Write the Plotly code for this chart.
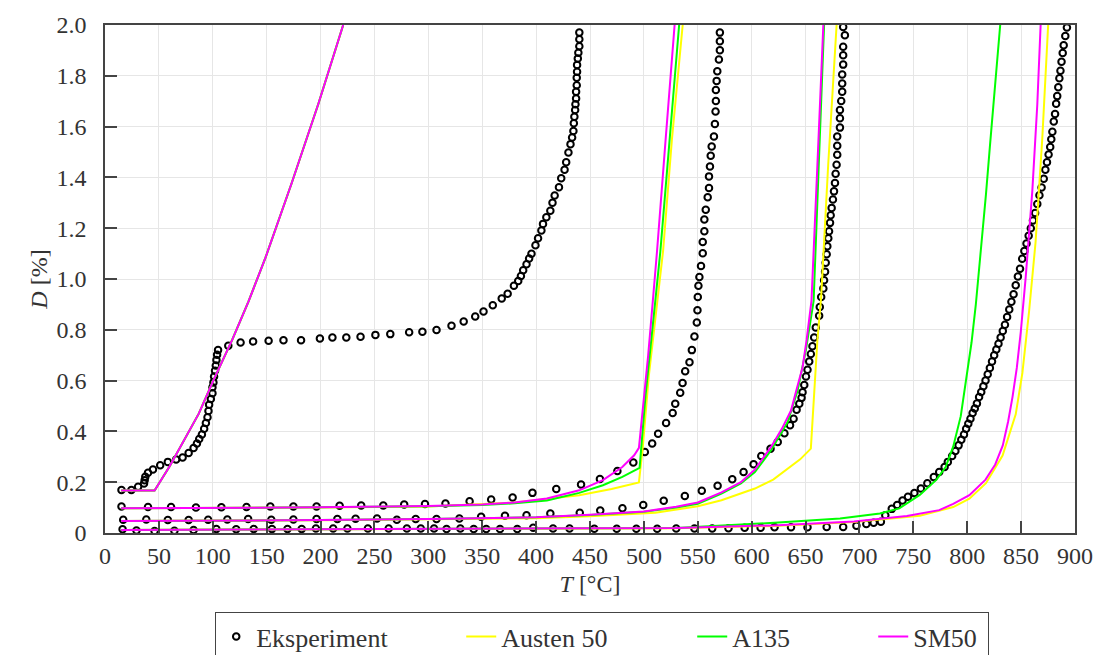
import plotly.graph_objects as go

# ---------------- Experimental data (Eksperiment) ----------------
exp1_T = [15.3, 24.5, 30.7, 36.2, 36.8, 37.4, 39.9, 44.5, 51.2, 58.3, 66.0, 72.0, 77.6, 82.2, 85.3, 87.4, 89.9, 92.0,
          93.6, 95.1, 96.0, 96.6, 98.2, 99.7, 99.7, 100.6, 101.2, 102.1, 102.8, 103.4, 104.0, 104.9, 114.4, 125.8,
          137.4, 151.8, 165.6, 181.9, 199.4, 211.0, 223.9, 237.1, 250.9, 264.7, 282.2, 294.5, 307.6, 321.5, 332.8,
          343.5, 351.2, 359.8, 368.1, 373.6, 379.4, 383.4, 385.9, 388.0, 391.1, 393.5, 395.7, 399.4, 401.8, 404.9,
          406.4, 409.5, 413.2, 415.2, 417.2, 421.2, 423.3, 426.4, 427.9, 430.0, 431.9, 433.4, 434.6, 435.0, 435.5,
          436.2, 436.5, 437.1, 437.1, 437.7, 437.7, 438.0, 438.0, 438.7, 439.2, 440.1, 440.1, 440.1]
exp1_D = [0.169, 0.169, 0.182, 0.195, 0.208, 0.221, 0.237, 0.250, 0.267, 0.280, 0.289, 0.297, 0.315, 0.335, 0.352,
          0.370, 0.388, 0.410, 0.433, 0.456, 0.480, 0.505, 0.528, 0.550, 0.574, 0.593, 0.616, 0.639, 0.659, 0.681,
          0.702, 0.720, 0.737, 0.750, 0.754, 0.757, 0.759, 0.759, 0.766, 0.770, 0.770, 0.773, 0.780, 0.783, 0.790,
          0.792, 0.799, 0.816, 0.833, 0.852, 0.872, 0.897, 0.923, 0.942, 0.973, 0.992, 1.012, 1.034, 1.058, 1.081,
          1.099, 1.133, 1.160, 1.191, 1.217, 1.243, 1.269, 1.300, 1.329, 1.361, 1.397, 1.430, 1.460, 1.498, 1.531,
          1.557, 1.583, 1.613, 1.639, 1.665, 1.688, 1.711, 1.737, 1.763, 1.792, 1.816, 1.843, 1.868, 1.891, 1.916,
          1.944, 1.970]

exp2_T = [15.3, 39.9, 61.3, 84.4, 108.0, 131.3, 153.4, 174.8, 196.3, 217.7, 237.7, 258.2, 277.6, 296.9, 315.9,
          338.3, 358.3, 378.2, 396.6, 418.7, 441.7, 459.2, 475.4, 490.2, 500.9, 507.7, 513.2, 520.6, 526.7, 529.1,
          533.7, 535.9, 538.3, 542.3, 544.5, 546.9, 549.1, 549.7, 550.0, 550.6, 551.5, 553.0, 554.6, 554.6, 556.1,
          556.1, 557.4, 559.2, 560.4, 560.4, 561.3, 562.0, 562.9, 565.0, 565.9, 566.5, 566.8, 566.8, 567.5, 568.1,
          569.6, 570.5, 570.5, 570.5]
exp2_D = [0.104, 0.102, 0.102, 0.100, 0.101, 0.102, 0.104, 0.104, 0.104, 0.107, 0.108, 0.108, 0.112, 0.114, 0.116,
          0.125, 0.132, 0.140, 0.158, 0.173, 0.191, 0.213, 0.244, 0.278, 0.319, 0.352, 0.391, 0.433, 0.472, 0.509,
          0.552, 0.591, 0.637, 0.672, 0.720, 0.774, 0.829, 0.877, 0.929, 0.973, 1.008, 1.051, 1.101, 1.146, 1.188,
          1.234, 1.273, 1.322, 1.358, 1.404, 1.443, 1.485, 1.522, 1.561, 1.610, 1.659, 1.701, 1.744, 1.780, 1.818,
          1.864, 1.901, 1.936, 1.970]

exp3_T = [16.9, 38.3, 58.3, 77.6, 95.7, 113.5, 132.8, 154.3, 174.8, 196.3, 215.6, 232.5, 252.4, 270.8, 288.3,
          307.6, 328.8, 349.0, 371.1, 391.1, 413.2, 440.5, 459.5, 480.1, 499.4, 518.4, 538.0, 553.7, 568.4, 582.0,
          592.5, 601.8, 608.9, 617.5, 624.2, 630.4, 635.6, 638.9, 641.7, 644.2, 646.3, 647.2, 648.8, 650.4, 651.8,
          653.4, 654.9, 656.4, 658.0, 659.5, 662.6, 663.2, 664.5, 666.5, 667.2, 668.1, 668.7, 669.6, 670.2, 671.1,
          671.8, 672.7, 673.3, 674.2, 675.4, 676.4, 677.3, 677.9, 678.8, 679.4, 679.4, 679.4, 681.9, 681.9, 681.9,
          683.1, 684.0, 684.0, 684.0, 684.9, 684.9, 684.9, 686.5, 684.9]
exp3_D = [0.052, 0.053, 0.051, 0.051, 0.052, 0.053, 0.055, 0.052, 0.053, 0.055, 0.055, 0.056, 0.057, 0.052, 0.055,
          0.055, 0.057, 0.064, 0.068, 0.070, 0.077, 0.080, 0.089, 0.097, 0.110, 0.127, 0.146, 0.166, 0.186, 0.212,
          0.240, 0.271, 0.303, 0.332, 0.358, 0.393, 0.424, 0.450, 0.485, 0.509, 0.532, 0.554, 0.583, 0.616, 0.643,
          0.675, 0.705, 0.735, 0.770, 0.809, 0.855, 0.890, 0.929, 0.963, 0.995, 1.029, 1.064, 1.097, 1.129, 1.160,
          1.188, 1.221, 1.251, 1.280, 1.313, 1.345, 1.378, 1.414, 1.450, 1.489, 1.525, 1.561, 1.596, 1.633, 1.665,
          1.701, 1.737, 1.770, 1.805, 1.844, 1.881, 1.914, 1.960, 1.992]

exp4_T = [16.3, 29.2, 46.0, 64.4, 82.2, 103.3, 121.7, 138.0, 154.9, 169.3, 182.5, 195.7, 211.7, 224.9, 243.9,
          263.2, 280.1, 293.0, 305.3, 316.9, 329.7, 342.1, 353.7, 366.5, 382.5, 397.3, 415.7, 431.0, 454.0, 474.8,
          493.0, 512.3, 530.0, 546.9, 563.4, 578.5, 593.5, 608.3, 621.2, 636.5, 651.8, 669.6, 684.9, 697.2, 706.4,
          713.2, 719.9, 724.0, 730.0, 735.0, 740.0, 745.0, 751.0, 757.0, 763.0, 769.0, 774.0, 779.0, 782.0, 786.0,
          789.0, 792.0, 794.5, 797.0, 799.0, 801.0, 803.0, 805.0, 807.0, 809.0, 811.0, 813.0, 815.0, 817.0, 819.0,
          821.0, 823.0, 825.0, 827.0, 829.0, 831.0, 833.0, 835.0, 837.0, 839.0, 841.0, 843.0, 845.0, 847.0, 849.0,
          851.0, 853.0, 855.0, 857.0, 859.0, 861.0, 863.0, 865.0, 867.0, 869.0, 871.0, 872.5, 874.0, 875.5, 877.0,
          878.0, 879.0, 880.3, 881.5, 882.5, 883.5, 884.5, 885.5, 886.5, 887.5, 888.6, 889.5, 891.0, 892.5]
exp4_D = [0.015, 0.010, 0.008, 0.009, 0.012, 0.016, 0.015, 0.016, 0.016, 0.016, 0.016, 0.018, 0.018, 0.018, 0.018,
          0.018, 0.018, 0.018, 0.018, 0.016, 0.018, 0.016, 0.016, 0.016, 0.016, 0.021, 0.018, 0.018, 0.017, 0.017,
          0.017, 0.017, 0.018, 0.018, 0.018, 0.019, 0.021, 0.021, 0.023, 0.023, 0.023, 0.024, 0.024, 0.029, 0.035,
          0.040, 0.044, 0.070, 0.095, 0.110, 0.128, 0.143, 0.157, 0.175, 0.196, 0.220, 0.240, 0.260, 0.280, 0.303,
          0.323, 0.345, 0.367, 0.388, 0.410, 0.430, 0.450, 0.472, 0.490, 0.510, 0.535, 0.555, 0.578, 0.600, 0.625,
          0.650, 0.675, 0.700, 0.722, 0.745, 0.770, 0.795, 0.820, 0.850, 0.880, 0.910, 0.940, 0.975, 1.010, 1.040,
          1.080, 1.110, 1.140, 1.170, 1.200, 1.230, 1.260, 1.295, 1.330, 1.360, 1.395, 1.430, 1.460, 1.490, 1.520,
          1.550, 1.580, 1.620, 1.650, 1.690, 1.720, 1.755, 1.790, 1.820, 1.855, 1.890, 1.920, 1.957, 1.990]

# ---------------- Model curves (four loading cases each) ----------------
case1_T = [15, 46, 60, 75, 87, 101, 118, 133, 149, 173, 198, 221]
case1_D = [0.167, 0.167, 0.263, 0.378, 0.470, 0.605, 0.760, 0.910, 1.085, 1.375, 1.690, 2.000]

austen2_T = [15, 100, 200, 300, 380, 440, 470, 495.4, 499, 504.6, 512.2, 517.8, 526, 536]
austen2_D = [0.097, 0.098, 0.100, 0.104, 0.120, 0.149, 0.173, 0.199, 0.340, 0.620, 0.914, 1.110, 1.550, 2.000]
a135_2_T = [15, 100, 200, 300, 350, 380, 410, 440, 462, 480, 496, 501.5, 506, 510.6, 515.3, 524, 532.7]
a135_2_D = [0.097, 0.098, 0.101, 0.105, 0.110, 0.117, 0.128, 0.158, 0.188, 0.221, 0.256, 0.540, 0.740, 0.914,
            1.110, 1.560, 2.000]
sm50_2_T = [15, 100, 200, 300, 350, 380, 410, 440, 462, 480, 491, 495.4, 500, 504, 508.3, 512.2, 520, 528.5]
sm50_2_D = [0.097, 0.098, 0.101, 0.106, 0.112, 0.120, 0.136, 0.168, 0.208, 0.260, 0.306, 0.335, 0.520, 0.700,
            0.914, 1.110, 1.540, 2.000]

austen3_T = [15, 200, 400, 450, 510.6, 550, 572, 603, 620, 633.4, 645, 654.9, 658, 661, 664.5, 671, 678.8]
austen3_D = [0.047, 0.050, 0.058, 0.066, 0.080, 0.105, 0.129, 0.175, 0.210, 0.254, 0.290, 0.332, 0.560, 0.760,
             0.930, 1.450, 2.000]
a135_3_T = [15, 100, 200, 300, 400, 450, 500, 530, 550, 572, 590, 603, 618, 633.4, 642.6, 650.3, 654, 657.5,
            662, 667.2]
a135_3_D = [0.047, 0.048, 0.051, 0.055, 0.062, 0.071, 0.084, 0.100, 0.115, 0.155, 0.195, 0.240, 0.326, 0.437,
            0.560, 0.720, 0.820, 0.914, 1.420, 2.000]
sm50_3_T = [15, 100, 200, 300, 400, 450, 500, 530, 550, 572, 590, 603, 618, 628, 636.5, 642.6, 647.2, 651,
            655.5, 661, 666.5]
sm50_3_D = [0.047, 0.048, 0.051, 0.055, 0.062, 0.072, 0.085, 0.103, 0.120, 0.160, 0.200, 0.250, 0.339, 0.410,
            0.482, 0.580, 0.652, 0.760, 0.914, 1.450, 2.000]

austen4_T = [15, 200, 400, 530, 620, 695, 756, 787, 802, 817.4, 832.8, 845, 851.2, 857.4, 863.4, 869.6, 875.1]
austen4_D = [0.012, 0.014, 0.017, 0.019, 0.028, 0.043, 0.068, 0.102, 0.135, 0.196, 0.305, 0.467, 0.630, 0.873,
             1.144, 1.550, 2.000]
a135_4_T = [15, 200, 400, 530, 621, 682, 719, 737, 756, 771.5, 780, 787, 794, 799, 804, 808, 812.5, 817.4, 821,
            825, 830.6]
a135_4_D = [0.012, 0.014, 0.018, 0.020, 0.040, 0.057, 0.077, 0.097, 0.150, 0.210, 0.260, 0.340, 0.460, 0.600,
            0.750, 0.900, 1.100, 1.334, 1.520, 1.713, 2.000]
sm50_4_T = [15, 200, 400, 530, 620, 695, 744, 774, 787, 802, 817, 826, 833, 838, 842, 846, 849.7, 854.3, 860.4,
            865, 868.1]
sm50_4_D = [0.012, 0.014, 0.018, 0.020, 0.030, 0.045, 0.067, 0.090, 0.115, 0.149, 0.210, 0.270, 0.345, 0.440,
            0.535, 0.650, 0.792, 1.009, 1.347, 1.686, 2.000]

x_ticks = list(range(0, 901, 50))
y_ticks = [0, 0.2, 0.4, 0.6, 0.8, 1.0, 1.2, 1.4, 1.6, 1.8, 2.0]
y_ticktext = ["0", "0.2", "0.4", "0.6", "0.8", "1.0", "1.2", "1.4", "1.6", "1.8", "2.0"]

series_names = ["Eksperiment", "Austen 50", "A135", "SM50"]
series_colors = ["#000000", "#FFFF00", "#00FF00", "#FF00FF"]
legend_widths = [200, 186, 136, 70]


def join(*segs):
    xs, ys = [], []
    for t, d in segs:
        assert len(t) == len(d)
        if xs:
            xs.append(None)
            ys.append(None)
        xs += list(t)
        ys += list(d)
    return xs, ys


FONT = "Liberation Serif"
fig = go.Figure()

ex, ey = join((exp1_T, exp1_D), (exp2_T, exp2_D), (exp3_T, exp3_D), (exp4_T, exp4_D))
fig.add_trace(go.Scatter(x=ex, y=ey, mode="markers", name=series_names[0], legendwidth=legend_widths[0],
                         marker=dict(symbol="circle-open", size=6.5, color=series_colors[0],
                                     line=dict(width=2, color=series_colors[0]))))

models = [
    ((case1_T, case1_D), (austen2_T, austen2_D), (austen3_T, austen3_D), (austen4_T, austen4_D)),
    ((case1_T, case1_D), (a135_2_T, a135_2_D), (a135_3_T, a135_3_D), (a135_4_T, a135_4_D)),
    ((case1_T, case1_D), (sm50_2_T, sm50_2_D), (sm50_3_T, sm50_3_D), (sm50_4_T, sm50_4_D)),
]
for i, segs in enumerate(models):
    mx, my = join(*segs)
    fig.add_trace(go.Scatter(x=mx, y=my, mode="lines", name=series_names[i + 1],
                             legendwidth=legend_widths[i + 1],
                             line=dict(color=series_colors[i + 1], width=2)))

axis_common = dict(showline=True, linecolor="#444", linewidth=1.5, mirror=True,
                   ticks="inside", ticklen=12, tickwidth=1.5, tickcolor="#444",
                   showgrid=True, gridcolor="#e6e6e6", gridwidth=1, zeroline=False,
                   tickfont=dict(family=FONT, size=24, color="#333"))

fig.update_layout(
    width=1105, height=655,
    margin=dict(l=105, r=22, t=23, b=122),
    paper_bgcolor="white", plot_bgcolor="white",
    font=dict(family=FONT, size=24, color="#333"),
    xaxis=dict(range=[0, 900], tickvals=x_ticks,
               title=dict(text="<i>T</i> [°C]", font=dict(family=FONT, size=24, color="#333"), standoff=8),
               **axis_common),
    yaxis=dict(range=[0, 2], tickvals=y_ticks, ticktext=y_ticktext, ticklabelstandoff=12,
               title=dict(text="<i>D</i> [%]", font=dict(family=FONT, size=24, color="#333"), standoff=2),
               **axis_common),
    legend=dict(orientation="h", xref="container", yref="container",
                x=0.545, xanchor="center", y=0.0656, yanchor="top",
                bordercolor="#444", borderwidth=1, bgcolor="white",
                font=dict(family=FONT, size=26, color="#333")),
    showlegend=True,
)

fig.write_html("out.html")
